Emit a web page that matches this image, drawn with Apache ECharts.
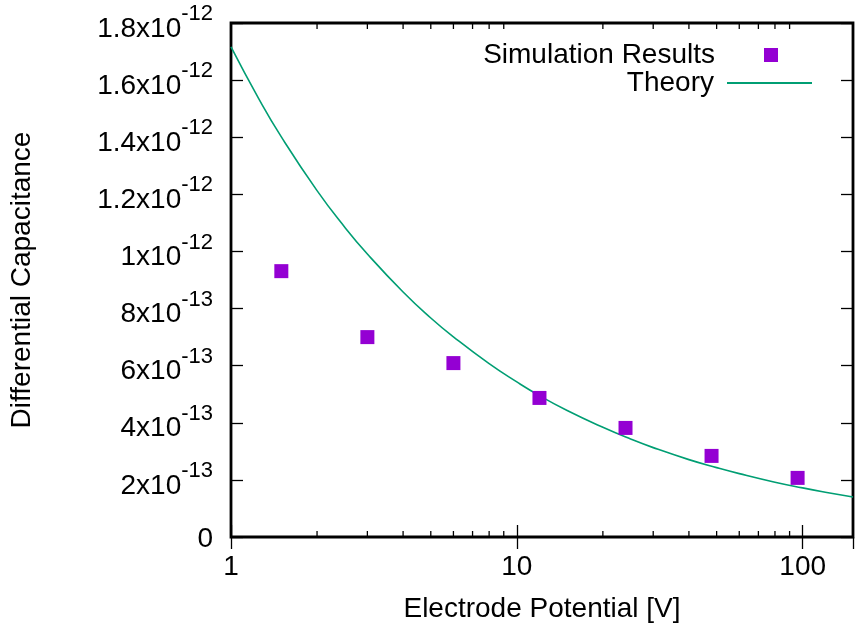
<!DOCTYPE html>
<html>
<head>
<meta charset="utf-8">
<script src="https://cdn.jsdelivr.net/npm/echarts@6/dist/echarts.min.js"></script>
<style>
  html, body { margin: 0; padding: 0; background: #fff; }
  #chart { width: 861px; height: 631px; }
</style>
</head>
<body>
<div id="chart"></div>
<script>
// simulation results (capacitance in units of 1e-12)
var simX = [1.5, 3, 6, 12, 24, 48, 96];
var simY = [0.931, 0.700, 0.609, 0.487, 0.382, 0.284, 0.207];

// theory curve
var theoryX = [1, 1.25, 1.5, 2, 2.5, 3, 4, 5, 6, 8, 10, 12, 15, 20, 25, 30, 40, 50, 60, 80, 100, 120, 150];
var theoryY = [1.716, 1.535, 1.401, 1.213, 1.085, 0.991, 0.858, 0.767, 0.701, 0.607, 0.543, 0.495,
               0.443, 0.384, 0.343, 0.313, 0.271, 0.243, 0.222, 0.192, 0.172, 0.157, 0.140];

// tick labels
var yTickBase = ['0', '2', '4', '6', '8', '1', '1.2', '1.4', '1.6', '1.8'];
var yTickExp = ['', '-13', '-13', '-13', '-13', '-12', '-12', '-12', '-12', '-12'];
var xMinorTicks = [2, 3, 4, 5, 6, 7, 8, 9, 20, 30, 40, 50, 60, 70, 80, 90];

var FONT = 'Liberation Sans, Arial, Helvetica, sans-serif';
var FS = 28;

var chart = echarts.init(document.getElementById('chart'));

function yLabel(v) {
    var i = Math.round(v / 0.2);
    if (yTickExp[i] === '') return '{b|' + yTickBase[i] + '}';
    // p is an empty spacer that makes the line tall enough to lift the exponent
    return '{p| }{b|' + yTickBase[i] + 'x10}{s|' + yTickExp[i] + '}';
}

var option = {
    backgroundColor: '#fff',
    animation: false,
    grid: {
        left: 229, right: 8, top: 23, bottom: 94,
        show: true, borderColor: '#000', borderWidth: 2.8
    },
    legend: [{
        data: ['Simulation Results'],
        right: 78, top: 36,
        align: 'right',
        itemWidth: 14, itemHeight: 14,
        textStyle: { fontFamily: FONT, fontSize: FS, color: '#000', padding: [0, 44, 0, 0] }
    }, {
        data: ['Theory'],
        right: 43, top: 64,
        align: 'right',
        itemWidth: 85, itemHeight: 14,
        itemStyle: { color: 'rgba(0,0,0,0)', borderWidth: 0 },
        textStyle: { fontFamily: FONT, fontSize: FS, color: '#000', padding: [0, 8, 0, 0] }
    }],
    xAxis: [{
        type: 'log', logBase: 10, min: 1, max: 150,
        name: 'Electrode Potential [V]',
        nameLocation: 'middle', nameGap: 58,
        nameTextStyle: { fontFamily: FONT, fontSize: FS, color: '#000' },
        axisLine: { show: false },
        axisTick: { inside: true, length: 12, lineStyle: { color: '#000', width: 1.3 } },
        axisLabel: {
            margin: 16, fontFamily: FONT, fontSize: FS, color: '#000',
            showMaxLabel: false,
            formatter: function (v) { return [1, 10, 100].indexOf(v) >= 0 ? String(v) : ''; }
        },
        splitLine: { show: false }
    }, {
        type: 'log', logBase: 10, min: 1, max: 150, position: 'top',
        axisLine: { show: false },
        axisTick: { inside: true, length: 12, lineStyle: { color: '#000', width: 1.3 } },
        axisLabel: { show: false },
        splitLine: { show: false }
    }],
    yAxis: [{
        type: 'value', min: 0, max: 1.8, interval: 0.2,
        name: 'Differential Capacitance',
        nameLocation: 'middle', nameGap: 195,
        nameTextStyle: { fontFamily: FONT, fontSize: FS, color: '#000' },
        axisLine: { show: false },
        axisTick: { inside: true, length: 12, lineStyle: { color: '#000', width: 1.3 } },
        axisLabel: {
            margin: 18, color: '#000',
            formatter: yLabel,
            rich: {
                p: { fontSize: 1, lineHeight: 40 },
                b: { fontFamily: FONT, fontSize: FS, color: '#000', verticalAlign: 'bottom', lineHeight: 32 },
                s: { fontFamily: FONT, fontSize: 22, color: '#000', verticalAlign: 'top', lineHeight: 22 }
            }
        },
        splitLine: { show: false }
    }, {
        type: 'value', min: 0, max: 1.8, interval: 0.2, position: 'right',
        axisLine: { show: false },
        axisTick: { inside: true, length: 12, lineStyle: { color: '#000', width: 1.3 } },
        axisLabel: { show: false },
        splitLine: { show: false }
    }],
    series: [{
        name: 'Theory',
        type: 'line',
        smooth: true,
        showSymbol: false,
        symbol: 'none',
        data: theoryX.map(function (x, i) { return [x, theoryY[i]]; }),
        lineStyle: { color: '#009e73', width: 1.6 },
        itemStyle: { color: '#009e73' },
        z: 3
    }, {
        name: 'Simulation Results',
        type: 'scatter',
        symbol: 'rect',
        symbolSize: 14,
        data: simX.map(function (x, i) { return [x, simY[i]]; }),
        itemStyle: { color: '#9400d3', opacity: 1 },
        z: 4
    }, {
        // minor log ticks at 2..9, 20..90 on bottom and top
        type: 'custom',
        silent: true,
        data: xMinorTicks.map(function (x) { return [x, 0]; }),
        renderItem: function (params, api) {
            var xv = api.value(0);
            var pb = api.coord([xv, 0]);
            var pt = api.coord([xv, 1.8]);
            var st = { stroke: '#000', lineWidth: 1.3 };
            return {
                type: 'group',
                children: [
                    { type: 'line', shape: { x1: pb[0], y1: pb[1], x2: pb[0], y2: pb[1] - 6 }, style: st },
                    { type: 'line', shape: { x1: pt[0], y1: pt[1], x2: pt[0], y2: pt[1] + 6 }, style: st }
                ]
            };
        },
        z: 5
    }]
};

chart.setOption(option);
</script>
</body>
</html>
